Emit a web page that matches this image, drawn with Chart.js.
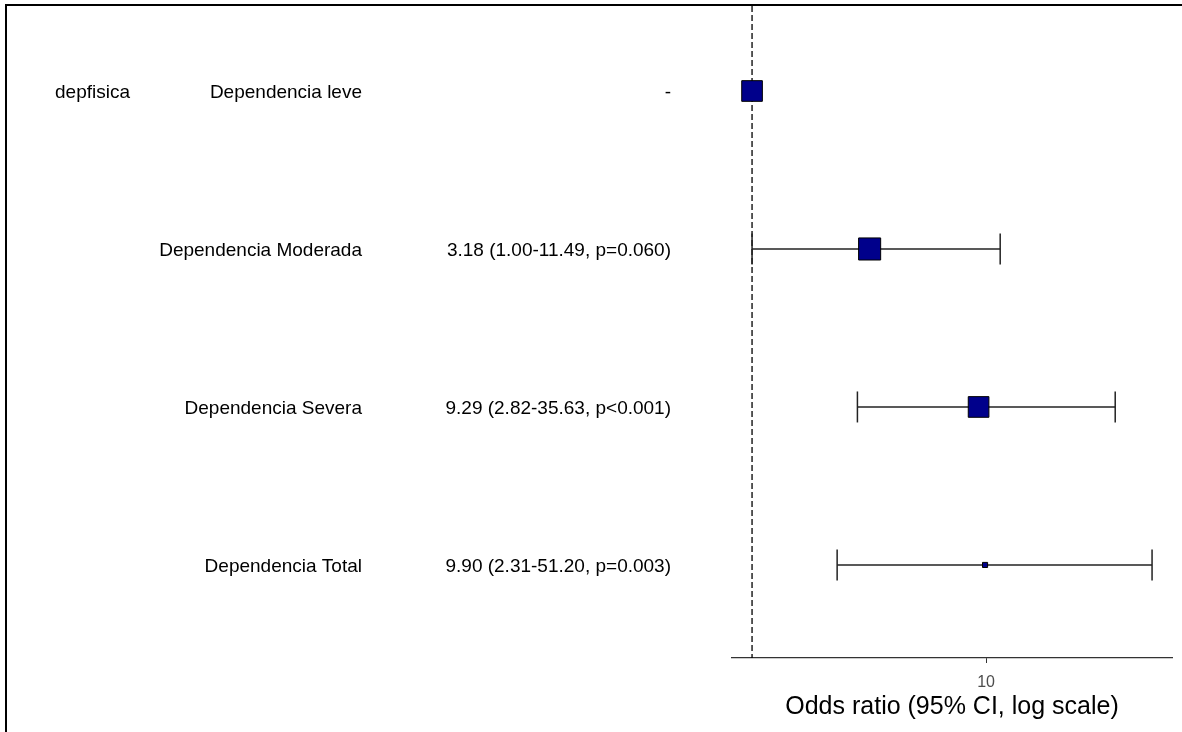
<!DOCTYPE html>
<html>
<head>
<meta charset="utf-8">
<script src="https://cdn.jsdelivr.net/npm/chart.js@4"></script>
<style>
  html, body { margin: 0; padding: 0; background: #fff; }
  #wrap { position: relative; width: 1182px; height: 732px; overflow: hidden; }
  #frame { position: absolute; left: 5px; top: 4px; right: -4px; bottom: -4px;
           border-top: 2px solid #000; border-left: 2px solid #000; pointer-events: none; }
  canvas { position: absolute; left: 0; top: 0; }
</style>
</head>
<body>
<div id="wrap">
  <canvas id="chart-forest" width="1182" height="732"></canvas>
  <div id="frame"></div>
</div>
<script>
// variable / levels
const groupLabel = 'depfisica';
const levels = ['Dependencia leve', 'Dependencia Moderada', 'Dependencia Severa', 'Dependencia Total'];
const statLabels = ['-', '3.18 (1.00-11.49, p=0.060)', '9.29 (2.82-35.63, p<0.001)', '9.90 (2.31-51.20, p=0.003)'];

// odds ratios with 95% CI (first level is the reference)
const oddsRatios = [1, 3.18, 9.29, 9.90];
const lowerCI = [null, 1.00, 2.82, 2.31];
const upperCI = [null, 11.49, 35.63, 51.20];

// x axis
const tickValues = [10];
const refLine = 1;
const axisTitle = 'Odds ratio (95% CI, log scale)';

// box half sizes (style)
const boxRadius = [14.6, 15.6, 14.6, 3.6];

const FONT = "'Liberation Sans', Arial, sans-serif";

// one dataset per error bar
const barSets = [];
levels.forEach((lvl, i) => {
  if (lowerCI[i] === null) return;
  barSets.push({
    type: 'line',
    label: lvl + ' CI',
    data: [{x: lowerCI[i], y: i}, {x: upperCI[i], y: i}],
    borderColor: '#222',
    borderWidth: 1.5,
    pointStyle: 'line',
    pointRotation: 90,
    pointRadius: 15.5,
    pointBorderWidth: 1.5,
    pointBorderColor: '#222',
    fill: false,
    order: 1
  });
});

// dashed reference line + text columns
const forestExtras = {
  id: 'forestExtras',
  beforeDatasetsDraw(chart) {
    const {ctx, chartArea, scales} = chart;
    const x = scales.x.getPixelForValue(refLine);
    ctx.save();
    ctx.strokeStyle = '#000';
    ctx.lineWidth = 1.3;
    ctx.setLineDash([6, 3]);
    ctx.beginPath();
    ctx.moveTo(x, chartArea.top);
    ctx.lineTo(x, chartArea.bottom);
    ctx.stroke();
    ctx.restore();
  },
  afterDraw(chart) {
    const {ctx, scales} = chart;
    ctx.save();
    ctx.fillStyle = '#000';
    ctx.font = '19px ' + FONT;
    ctx.textBaseline = 'middle';
    levels.forEach((lvl, i) => {
      const y = scales.y.getPixelForValue(i) + 2;
      if (i === 0) {
        ctx.textAlign = 'left';
        ctx.fillText(groupLabel, 55, y);
      }
      ctx.textAlign = 'right';
      ctx.fillText(lvl, 362, y);
      ctx.fillText(statLabels[i], 671, y);
    });
    ctx.restore();
  }
};

const ctx = document.getElementById('chart-forest').getContext('2d');
new Chart(ctx, {
  type: 'scatter',
  data: {
    datasets: [
      {
        label: 'OR',
        data: oddsRatios.map((v, i) => ({x: v, y: i})),
        pointStyle: 'rect',
        pointRadius: boxRadius,
        backgroundColor: '#00008b',
        borderColor: '#000',
        borderWidth: 1,
        order: 0
      },
      ...barSets
    ]
  },
  options: {
    responsive: false,
    animation: false,
    layout: { autoPadding: false, padding: { left: 732, right: 10, top: 6, bottom: 0 } },
    plugins: {
      legend: { display: false },
      tooltip: { enabled: false }
    },
    scales: {
      x: {
        type: 'logarithmic',
        min: 0.821,
        max: 62.3,
        afterBuildTicks: (scale) => {
          scale.ticks = tickValues.map(v => ({value: v}));
        },
        afterFit: (scale) => { scale.height = 74; },
        border: { display: true, color: '#333', width: 1.2 },
        grid: { drawOnChartArea: false, drawTicks: true, tickLength: 5, tickColor: '#333' },
        ticks: {
          color: '#4d4d4d',
          font: { family: FONT, size: 16 },
          padding: 10,
          maxRotation: 0,
          callback: (v) => String(v)
        },
        title: {
          display: true,
          text: axisTitle,
          color: '#000',
          font: { family: FONT, size: 25 },
          padding: { top: 0, bottom: 10 }
        }
      },
      y: {
        type: 'linear',
        display: false,
        reverse: true,
        min: -0.538,
        max: 3.589
      }
    }
  },
  plugins: [forestExtras]
});
</script>
</body>
</html>
